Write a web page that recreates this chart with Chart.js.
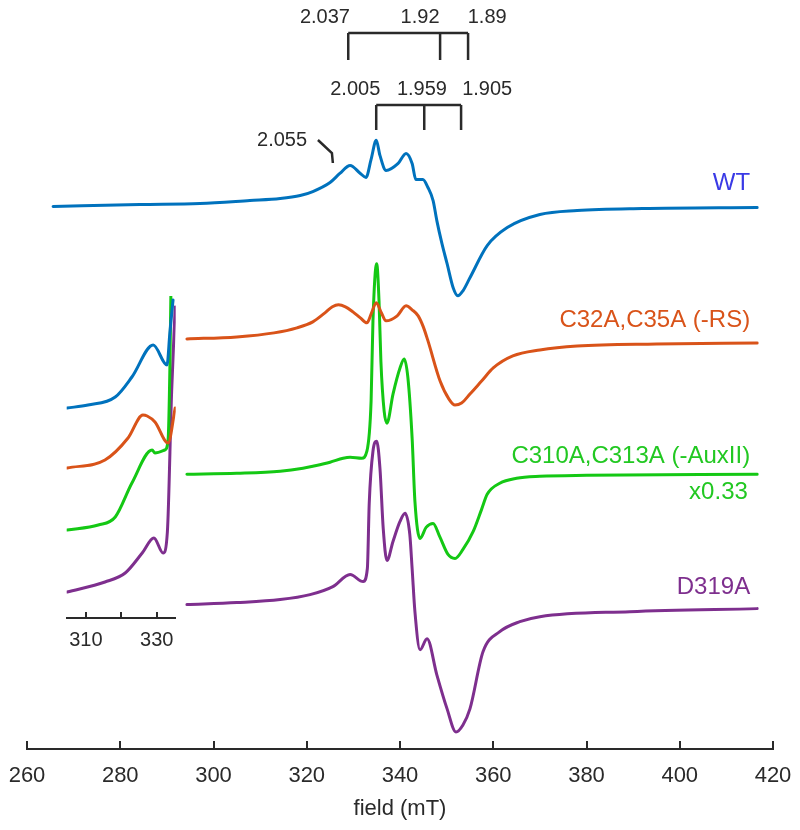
<!DOCTYPE html>
<html>
<head>
<meta charset="utf-8">
<script src="https://cdn.jsdelivr.net/npm/chart.js@4.4.0/dist/chart.umd.min.js"></script>
<style>
  html, body { margin: 0; padding: 0; background: #fff; }
  #wrap { position: relative; width: 800px; height: 830px; }
  #wrap canvas { position: absolute; left: 0; top: 0; }
</style>
</head>
<body>
<div id="wrap">
  <canvas id="mainChart" width="800" height="830"></canvas>
  <canvas id="insetChart" width="800" height="830"></canvas>
</div>
<script>
// ---- field axes (mT) ----
const fieldMin = 260;
const fieldMax = 420;
const fieldStep = 20;
const insetMin = 304.6;
const insetMax = 335.35;
const insetTicks = [310, 320, 330];
const insetTickLabels = ['310', '', '330'];

// ---- main spectra: field (mT) and derivative signal (a.u., 0 = baseline) ----
const wtField = [265.6, 284.2, 297.1, 307.8, 314.3, 318.6, 321.3, 325.0, 327.1, 329.3, 331.5, 332.7,
  333.8, 334.9, 335.7, 337.0, 339.6, 341.3, 342.6, 343.4, 344.9, 346.0, 347.1, 347.9, 349.0, 350.1,
  351.4, 352.4, 353.5, 355.0, 358.7, 363.0, 370.0, 378.0, 392.0, 416.6];
const wtSignal = [1, 3, 4, 7, 9, 12, 16, 25, 34, 42, 34, 30,
  48, 67, 52, 37, 44, 54, 44, 28, 28, 20, 7, -13, -36, -56,
  -80, -88, -83, -70, -38, -20, -7, -3, -1, 0];

const rsField = [294.3, 305.0, 313.0, 317.9, 321.3, 323.9, 325.5, 326.8, 328.3, 329.9, 331.5, 332.9,
  333.9, 334.9, 336.0, 337.0, 339.4, 341.3, 342.6, 343.9, 345.0, 346.0, 348.6, 350.5, 351.8, 353.2,
  355.0, 357.5, 360.0, 364.2, 370.0, 378.0, 395.0, 416.6];
const rsSignal = [4, 6, 10, 15, 21, 30, 36, 38, 36, 31, 25, 20,
  30, 40, 30, 22, 27, 37, 33, 27, 16, 2, -38, -56, -62, -60,
  -51, -38, -25, -13, -7, -3, -1, 0];

const auxField = [294.3, 305.0, 314.3, 319.2, 321.3, 325.0, 327.8, 329.3, 331.8, 332.9, 333.8, 334.2,
  335.0, 335.5, 335.9, 336.6, 337.2, 338.5, 340.0, 340.9, 341.7, 342.6, 343.2, 344.3, 345.6, 347.1,
  348.5, 350.3, 351.8, 353.5, 355.7, 357.5, 358.7, 361.4, 365.0, 370.0, 380.0, 416.6];
const auxSignal = [0, 1, 3, 6, 8, 12, 16, 17, 16, 23, 73, 153,
  210, 173, 113, 63, 51, 80, 106, 115, 96, 36, -27, -64, -53, -49,
  -62, -80, -84, -75, -57, -35, -20, -9, -4, -2, -1, 0];

const d319Field = [294.3, 305.0, 314.3, 320.7, 325.6, 329.3, 332.1, 333.0, 333.4, 334.2, 335.0, 335.7,
  336.4, 337.2, 338.5, 340.0, 341.1, 342.1, 342.6, 343.2, 344.3, 345.8, 347.9, 350.1, 352.0, 353.5,
  355.0, 357.8, 361.4, 365.7, 370.0, 389.3, 416.6];
const d319Signal = [4, 6, 9, 14, 22, 34, 27, 40, 105, 157, 167, 140,
  80, 48, 67, 87, 95, 74, 40, -3, -41, -30, -66, -100, -123, -116,
  -100, -43, -23, -13, -8, -3, 0];

// ---- inset (low-field region, expanded) ----
const wtInsetField = [304.7, 310.6, 318.3, 323.0, 329.0, 332.9, 333.7, 334.6];
const wtInsetSignal = [0, 3, 11, 31, 63, 43, 75, 108];
const rsInsetField = [304.7, 315.4, 321.9, 326.1, 327.3, 329.5, 333.2, 335.2];
const rsInsetSignal = [0, 8, 30, 53, 52, 46, 25, 60];
const auxInsetField = [304.7, 313.5, 318.3, 323.0, 328.7, 329.5, 332.3, 333.2, 333.7, 334.6];
const auxInsetSignal = [0, 5, 13, 47, 80, 77, 80, 90, 160, 400];
const d319InsetField = [304.7, 315.4, 321.1, 325.9, 329.2, 331.8, 333.0, 334.2, 335.2];
const d319InsetSignal = [0, 10, 19, 39, 54, 39, 60, 200, 285];

// ---- labels ----
const traceNames = ['WT', 'C32A,C35A (-RS)', 'C310A,C313A (-AuxII)', 'D319A'];
const scaleNote = 'x0.33';
const gTopText = ['2.037', '1.92', '1.89'];
const gTopLegs = [328.9, 348.6, 354.6];
const gTopTextAt = [323.9, 344.3, 358.7];
const gLowText = ['2.005', '1.959', '1.905'];
const gLowLegs = [334.9, 345.2, 353.1];
const gLowTextAt = [330.4, 344.7, 358.7];
const gSideText = '2.055';
const gSideTextAt = 314.7;
const gSidePointer = [322.4, 325.4, 325.6];

// ---- styles / layout ----
const traceColors = ['#0072BD', '#D95319', '#14c814', '#7E2F8E'];
const labelColors = ['#3a3ae6', '#D95319', '#22c822', '#7E2F8E'];
const traceOffsets = [540, 405, 274, 140];   // px above field axis
const insetOffsets = [210, 150, 88, 26];
const FONT = "'Liberation Sans', Arial, sans-serif";
const INK = '#2a2a2a';

function toPoints(fields, signal, offset) {
    return fields.map((f, i) => ({ x: f, y: signal[i] + offset }));
}

function makeDataset(fields, signal, offset, color) {
    return {
        data: toPoints(fields, signal, offset),
        borderColor: color,
        borderWidth: 3,
        pointRadius: 0,
        fill: false,
        cubicInterpolationMode: 'monotone',
        borderCapStyle: 'round',
        borderJoinStyle: 'round'
    };
}

// tick marks pointing up into the plot
const inwardTicks = {
    id: 'inwardTicks',
    afterDraw(chart, args, opts) {
        const sc = chart.scales.x;
        const ctx = chart.ctx;
        ctx.save();
        ctx.strokeStyle = INK;
        ctx.lineWidth = 2;
        sc.ticks.forEach(t => {
            const px = Math.round(sc.getPixelForValue(t.value));
            ctx.beginPath();
            ctx.moveTo(px, sc.top);
            ctx.lineTo(px, sc.top - opts.length);
            ctx.stroke();
        });
        ctx.restore();
    }
};

// g-value brackets and trace names
const annotations = {
    id: 'annotations',
    afterDraw(chart) {
        const xs = chart.scales.x;
        const ctx = chart.ctx;
        const X = v => xs.getPixelForValue(v);
        ctx.save();

        ctx.strokeStyle = INK;
        ctx.lineWidth = 2.5;
        ctx.lineCap = 'butt';
        const bracket = (legs, yTop, yBottom) => {
            ctx.beginPath();
            ctx.moveTo(X(legs[0]), yTop);
            ctx.lineTo(X(legs[legs.length - 1]), yTop);
            legs.forEach(l => {
                ctx.moveTo(X(l), yTop);
                ctx.lineTo(X(l), yBottom);
            });
            ctx.stroke();
        };
        bracket(gTopLegs, 33, 60);
        bracket(gLowLegs, 105, 130);

        ctx.beginPath();
        ctx.moveTo(X(gSidePointer[0]), 140);
        ctx.lineTo(X(gSidePointer[1]), 153);
        ctx.lineTo(X(gSidePointer[2]), 163);
        ctx.stroke();

        ctx.fillStyle = INK;
        ctx.font = '20px ' + FONT;
        ctx.textAlign = 'center';
        ctx.textBaseline = 'middle';
        gTopText.forEach((t, i) => ctx.fillText(t, X(gTopTextAt[i]), 17));
        gLowText.forEach((t, i) => ctx.fillText(t, X(gLowTextAt[i]), 89));
        ctx.fillText(gSideText, X(gSideTextAt), 140);

        ctx.font = '24px ' + FONT;
        ctx.textAlign = 'right';
        const nameY = [183, 320, 456, 587];
        traceNames.forEach((n, i) => {
            ctx.fillStyle = labelColors[i];
            ctx.fillText(n, X(415.1), nameY[i]);
        });
        ctx.fillStyle = labelColors[2];
        ctx.fillText(scaleNote, X(414.6), 492);
        ctx.restore();
    }
};

new Chart(document.getElementById('mainChart'), {
    type: 'line',
    data: {
        datasets: [
            makeDataset(wtField, wtSignal, traceOffsets[0], traceColors[0]),
            makeDataset(rsField, rsSignal, traceOffsets[1], traceColors[1]),
            makeDataset(auxField, auxSignal, traceOffsets[2], traceColors[2]),
            makeDataset(d319Field, d319Signal, traceOffsets[3], traceColors[3])
        ]
    },
    options: {
        responsive: false,
        animation: false,
        devicePixelRatio: 1,
        layout: { padding: { left: 27, right: 27, top: 0, bottom: 4.2 } },
        plugins: {
            legend: { display: false },
            tooltip: { enabled: false },
            inwardTicks: { length: 8 }
        },
        scales: {
            x: {
                type: 'linear',
                min: fieldMin,
                max: fieldMax,
                afterFit: sc => { sc.paddingLeft = 0; sc.paddingRight = 0; },
                ticks: { stepSize: fieldStep, color: INK, padding: 14, font: { family: FONT, size: 22 } },
                grid: { display: false, drawTicks: false },
                border: { display: true, color: INK, width: 2 },
                title: {
                    display: true,
                    text: 'field (mT)',
                    color: INK,
                    font: { family: FONT, size: 22 },
                    padding: { top: -8, bottom: 4 }
                }
            },
            y: { display: false, min: 0, max: 747 }
        }
    },
    plugins: [inwardTicks, annotations]
});

new Chart(document.getElementById('insetChart'), {
    type: 'line',
    data: {
        datasets: [
            makeDataset(wtInsetField, wtInsetSignal, insetOffsets[0], traceColors[0]),
            makeDataset(rsInsetField, rsInsetSignal, insetOffsets[1], traceColors[1]),
            makeDataset(auxInsetField, auxInsetSignal, insetOffsets[2], traceColors[2]),
            makeDataset(d319InsetField, d319InsetSignal, insetOffsets[3], traceColors[3])
        ]
    },
    options: {
        responsive: false,
        animation: false,
        devicePixelRatio: 1,
        layout: { padding: { left: 66.7, right: 624.3, top: 296, bottom: 168 } },
        plugins: {
            legend: { display: false },
            tooltip: { enabled: false },
            inwardTicks: { length: 6 }
        },
        scales: {
            x: {
                type: 'linear',
                min: insetMin,
                max: insetMax,
                afterBuildTicks: sc => { sc.ticks = insetTicks.map(v => ({ value: v })); },
                ticks: {
                    color: INK,
                    padding: 10,
                    autoSkip: false,
                    maxRotation: 0,
                    font: { family: FONT, size: 20 },
                    callback: (v) => insetTickLabels[insetTicks.indexOf(v)] ?? ''
                },
                grid: { display: false, drawTicks: false },
                border: { display: true, color: INK, width: 2 }
            },
            y: { display: false, min: 0, max: 322 }
        }
    },
    plugins: [inwardTicks]
});
</script>
</body>
</html>
